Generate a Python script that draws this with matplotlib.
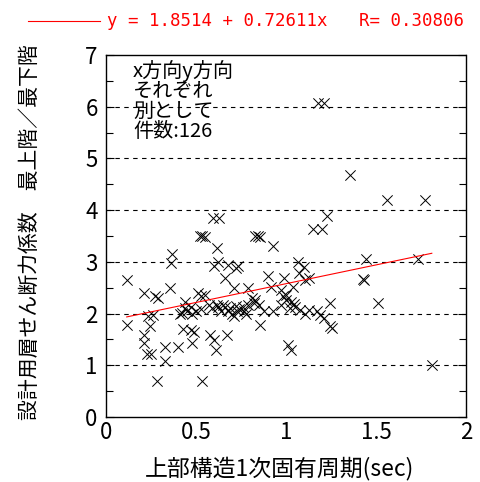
import matplotlib
matplotlib.use('Agg')
import matplotlib.pyplot as plt
from matplotlib.ticker import MultipleLocator
import numpy as np

plt.rcParams['font.family'] = ['Noto Sans CJK JP', 'DejaVu Sans']

# natural period (sec) vs. design shear coefficient ratio, top storey / bottom storey
period = [
    0.115, 0.115, 0.21, 0.27, 0.29, 0.355, 0.365, 0.36, 0.235, 0.26,
    0.245, 0.21, 0.21, 0.225, 0.25, 0.33, 0.325, 0.40, 0.285, 0.43,
    0.41, 0.42, 0.44, 0.45, 0.44, 0.47, 0.48, 0.49, 0.47, 0.48,
    0.50, 0.51, 0.53, 0.55, 0.535, 0.52, 0.535, 0.55, 0.57, 0.59,
    0.58, 0.60, 0.61, 0.595, 0.63, 0.615, 0.60, 0.62, 0.615, 0.64,
    0.66, 0.67, 0.66, 0.68, 0.72, 0.735, 0.68, 0.69, 0.70, 0.71,
    0.71, 0.72, 0.74, 0.76, 0.78, 0.79, 0.79, 0.82, 0.81, 0.83,
    0.85, 0.83, 0.845, 0.855, 0.855, 0.88, 0.93, 0.93, 0.90, 0.915,
    0.99, 0.97, 0.985, 1.00, 1.01, 1.03, 1.03, 1.05, 1.08, 1.04,
    1.00, 1.065, 1.10, 1.07, 1.105, 1.13, 1.105, 1.13, 1.17, 1.19,
    1.21, 1.245, 1.255, 1.245, 1.15, 1.20, 1.225, 1.18, 1.21, 1.355,
    1.56, 1.775, 1.445, 1.735, 1.43, 1.435, 1.51, 1.81, 1.02, 1.045,
    0.765, 0.62, 0.65, 0.53, 0.97, 0.725,
]
ratio = [
    2.64, 1.77, 2.39, 2.33, 2.31, 2.49, 3.15, 2.97, 1.95, 1.98,
    1.76, 1.59, 1.43, 1.21, 1.21, 1.36, 1.08, 1.36, 0.70, 1.70,
    1.99, 2.02, 2.10, 2.04, 2.23, 2.13, 1.99, 1.65, 1.68, 1.43,
    2.05, 2.39, 2.33, 2.36, 0.70, 3.50, 3.50, 3.49, 2.17, 2.10,
    1.59, 1.49, 1.30, 3.84, 3.84, 3.26, 2.91, 3.00, 2.17, 2.04,
    2.68, 1.59, 2.12, 2.94, 2.88, 2.91, 2.05, 2.10, 2.00, 1.95,
    2.49, 2.15, 2.08, 2.13, 2.00, 2.49, 2.17, 2.20, 2.30, 2.26,
    2.17, 3.50, 3.50, 3.48, 1.78, 2.04, 2.04, 3.30, 2.73, 2.52,
    2.68, 2.46, 2.33, 2.26, 1.39, 1.29, 2.23, 2.13, 2.07, 2.52,
    2.36, 3.00, 2.90, 2.78, 2.65, 2.68, 2.00, 2.07, 2.04, 1.97,
    1.91, 1.75, 1.72, 2.20, 3.63, 3.63, 3.88, 6.08, 6.08, 4.68,
    4.20, 4.20, 3.05, 3.05, 2.66, 2.64, 2.20, 1.00, 2.10, 2.18,
    2.05, 2.12, 2.17, 2.08, 2.17, 2.04,
]

x_ticks = [0, 0.5, 1, 1.5, 2]
x_ticklabels = ['0', '0.5', '1', '1.5', '2']

intercept = 1.8514
slope = 0.72611
r_value = 0.30806

fig = plt.figure(figsize=(4.81, 4.82), dpi=100)
ax = fig.add_axes([0.2204, 0.1349, 0.7484, 0.751])

ax.scatter(period, ratio, marker='x', s=55, c='black', linewidths=0.7, zorder=3)

xs = np.array([min(period), max(period)])
ax.plot(xs, intercept + slope * xs, color='red', lw=0.8, zorder=4)

ax.set_xlim(0, 2)
ax.set_ylim(0, 7)
ax.set_xticks(x_ticks, x_ticklabels)
ax.yaxis.set_major_locator(MultipleLocator(1))
ax.yaxis.set_minor_locator(MultipleLocator(0.5))
ax.tick_params(axis='x', length=0, pad=3, labelsize=16)
ax.tick_params(axis='y', which='both', direction='in', length=6, width=0.8,
               right=True, pad=6, labelsize=16)
ax.tick_params(axis='y', which='minor', length=5)

for yv in range(1, 7):
    ax.axhline(yv, color='black', lw=0.8, ls=(0, (4, 4)), zorder=1)
for side in ['left', 'right', 'bottom']:
    ax.spines[side].set_linewidth(1.0)
ax.spines['top'].set_linestyle((0, (4, 1)))
ax.spines['top'].set_linewidth(1.0)

ax.text(0.075, 0.985, 'x方向y方向\nそれぞれ\n別として\n件数:126',
        transform=ax.transAxes, ha='left', va='top', fontsize=14.5,
        linespacing=0.93)

fig.text(0.582, 0.029, '上部構造1次固有周期(sec)', ha='center', va='center',
         fontsize=16.5)
fig.text(0.062, 0.519, '設計用層せん断力係数　最上階／最下階', rotation=90,
         ha='center', va='center', fontsize=15)

# regression line key above the plot
fig.add_artist(plt.Line2D([28 / 481, 100 / 481], [1 - 21 / 482, 1 - 21 / 482],
                          color='red', lw=0.8))
fig.text(107 / 481, 1 - 21 / 482,
         'y = %.4f + %.5fx   R= %.5f' % (intercept, slope, r_value),
         color='red', ha='left', va='center', fontsize=12.5,
         family='DejaVu Sans Mono')

fig.savefig('out.png', dpi=100)
